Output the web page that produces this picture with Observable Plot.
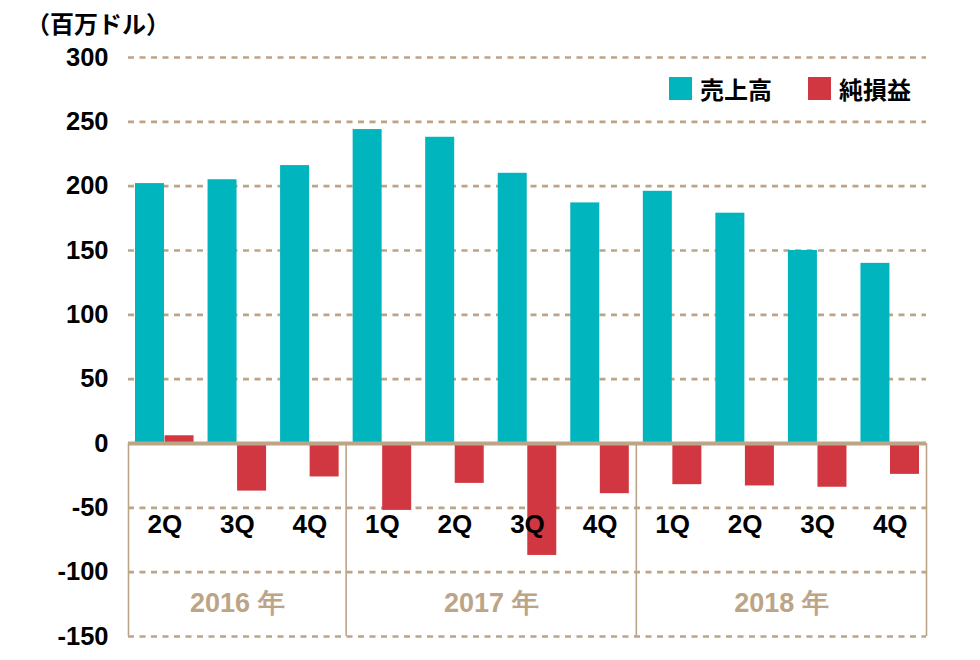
<!DOCTYPE html>
<html>
<head>
<meta charset="utf-8">
<script src="https://cdn.jsdelivr.net/npm/d3@7"></script>
<script src="https://cdn.jsdelivr.net/npm/@observablehq/plot@0.6"></script>
<style>
  html, body { margin: 0; padding: 0; background: #fff; }
  #wrap { position: relative; width: 980px; height: 660px; }
  #title { position: absolute; left: 26px; top: 5px; font: bold 24px "Noto Sans CJK JP", sans-serif; color: #000; }
  #legend { position: absolute; left: 669px; top: 71px; display: flex; align-items: center; font: bold 24px "Noto Sans CJK JP", sans-serif; color: #000; }
  .sw { width: 23px; height: 23px; display: inline-block; margin-right: 8px; }
  .item { display: flex; align-items: center; margin-right: 36px; }
</style>
</head>
<body>
<div id="wrap">
  <div id="chart"></div>
  <div id="title">（百万ドル）</div>
  <div id="legend"></div>
</div>
<script>
const quarters = ["2Q","3Q","4Q","1Q","2Q","3Q","4Q","1Q","2Q","3Q","4Q"];
const years = ["2016","2016","2016","2017","2017","2017","2017","2018","2018","2018","2018"];
const revenue = [202, 205, 216, 244, 238, 210, 187, 196, 179, 150, 140];
const netIncome = [6, -37, -26, -52, -31, -87, -39, -32, -33, -34, -24];
const yearNames = ["2016", "2017", "2018"];
const yearLabels = ["2016 年", "2017 年", "2018 年"];
const yTicks = [-150, -100, -50, 0, 50, 100, 150, 200, 250, 300];
const seriesNames = ["売上高", "純損益"];

const teal = "#00b5bd";
const red = "#d13741";
const tan = "#bca487";

const width = 980, height = 660;
const marginLeft = 128, marginRight = 54, marginTop = 57, marginBottom = 24;
const keys = quarters.map((q, i) => years[i] + "-" + q);
const data = keys.map((k, i) => ({key: k, quarter: quarters[i], year: years[i], revenue: revenue[i], net: netIncome[i]}));
const bw = (width - marginLeft - marginRight) / keys.length;
const barW = 29, pad = 7;

const yearInfo = yearNames.map((y, j) => {
  const idx = years.map((v, i) => v === y ? i : -1).filter(i => i >= 0);
  return {year: y, label: yearLabels[j], first: keys[idx[0]], count: idx.length};
});

const marks = [
  Plot.ruleY(yTicks.filter(d => d !== 0), {stroke: tan, strokeWidth: 2.6, strokeDasharray: "6,5.5"}),
  ...yearInfo.map(d => Plot.ruleX([d.first], {x: d => d, y1: 0, y2: -150, dx: -bw / 2, stroke: tan, strokeWidth: 1.6})),
  Plot.ruleX([keys[keys.length - 1]], {x: d => d, y1: 0, y2: -150, dx: bw / 2, stroke: tan, strokeWidth: 1.6}),
  Plot.barY(data, {x: "key", y: "revenue", fill: teal, insetLeft: pad, insetRight: bw - pad - barW}),
  Plot.barY(data, {x: "key", y: "net", fill: red, insetLeft: bw - pad - barW, insetRight: pad}),
  Plot.ruleY([0], {stroke: tan, strokeWidth: 4}),
  Plot.axisY(yTicks, {tickSize: 0, tickPadding: 20, tickFormat: d => String(d), fontSize: 25.5, fontWeight: "bold", fill: "#000"}),
  Plot.text(data, {x: "key", y: -63, text: "quarter", fontSize: 26, fontWeight: "bold", fill: "#000", lineAnchor: "middle"}),
  ...yearInfo.map(d => Plot.text([d], {x: "first", y: -124, text: "label", dx: (d.count - 1) * bw / 2, fontSize: 27, fontWeight: "bold", fill: tan, lineAnchor: "middle"}))
];

const chart = Plot.plot({
  width, height, marginLeft, marginRight, marginTop, marginBottom,
  style: {fontFamily: "'Liberation Sans', Arial, sans-serif", background: "#fff", overflow: "visible"},
  x: {type: "band", domain: keys, padding: 0, round: false, axis: null},
  y: {domain: [-150, 300], axis: null},
  marks
});
document.getElementById("chart").appendChild(chart);

const legend = document.getElementById("legend");
[teal, red].forEach((c, i) => {
  const item = document.createElement("div");
  item.className = "item";
  const sw = document.createElement("span");
  sw.className = "sw";
  sw.style.background = c;
  const t = document.createElement("span");
  t.textContent = seriesNames[i];
  item.appendChild(sw); item.appendChild(t);
  legend.appendChild(item);
});
</script>
</body>
</html>
